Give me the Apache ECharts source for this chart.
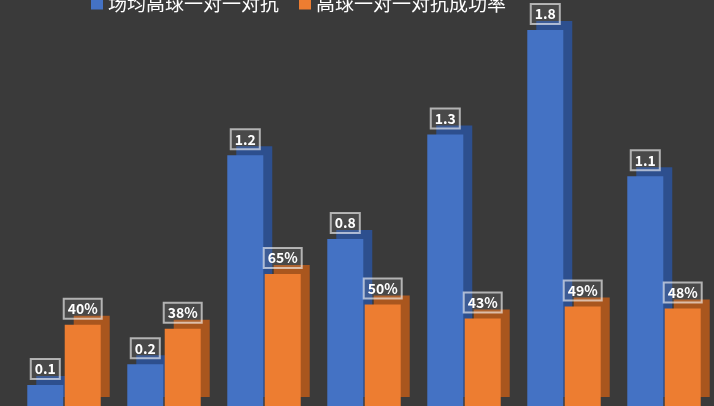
<!DOCTYPE html>
<html>
<head>
<meta charset="utf-8">
<script src="https://cdn.jsdelivr.net/npm/echarts@6/dist/echarts.min.js"></script>
<style>html,body{margin:0;padding:0;background:#3a3a3a;overflow:hidden}#main{width:714px;height:406px}</style>
</head>
<body>
<div id="main"></div>
<script>
const myChart = echarts.init(document.querySelector('#main'))
const categories = ['1', '2', '3', '4', '5', '6', '7']
const duels = [0.1, 0.2, 1.2, 0.8, 1.3, 1.8, 1.1]
const successRate = [0.40, 0.38, 0.65, 0.50, 0.43, 0.49, 0.48]

const labelBox = {
  show: true,
  position: 'top',
  distance: 6,
  color: '#fff',
  fontSize: 14,
  fontWeight: 'bold',
  fontFamily: 'Noto Sans CJK SC',
  padding: [3, 4],
  borderColor: 'rgba(255,255,255,0.6)',
  borderWidth: 1,
  backgroundColor: 'rgba(255,255,255,0.08)'
}

let option = {
  backgroundColor: '#3a3a3a',
  legend: {
    top: -11,
    left: 86,
    itemWidth: 12,
    itemHeight: 12,
    itemGap: 20,
    icon: 'rect',
    textStyle: { color: '#fff', fontSize: 19, fontFamily: 'Noto Sans CJK SC' }
  },
  grid: { left: 14, width: 725, top: 30, height: 399 },
  xAxis: { type: 'category', data: categories, show: false },
  yAxis: [
    { type: 'value', min: 0, max: 1.8, show: false },
    { type: 'value', min: 0, max: 1.85, show: false }
  ],
  series: [
    {
      name: '场均高球一对一对抗',
      type: 'bar',
      data: duels,
      barWidth: 36,
      barGap: '4%',
      itemStyle: {
        color: '#4472c4',
        shadowColor: '#2d4f8e',
        shadowOffsetX: 9,
        shadowOffsetY: -9,
        shadowBlur: 0
      },
      label: labelBox
    },
    {
      name: '高球一对一对抗成功率',
      type: 'bar',
      yAxisIndex: 1,
      data: successRate,
      barWidth: 36,
      itemStyle: {
        color: '#ed7d31',
        shadowColor: '#a9561e',
        shadowOffsetX: 9,
        shadowOffsetY: -9,
        shadowBlur: 0
      },
      label: Object.assign({}, labelBox, {
        formatter: p => Math.round(p.value * 100) + '%'
      })
    }
  ]
};
option && myChart.setOption(option);
</script>
</body>
</html>
